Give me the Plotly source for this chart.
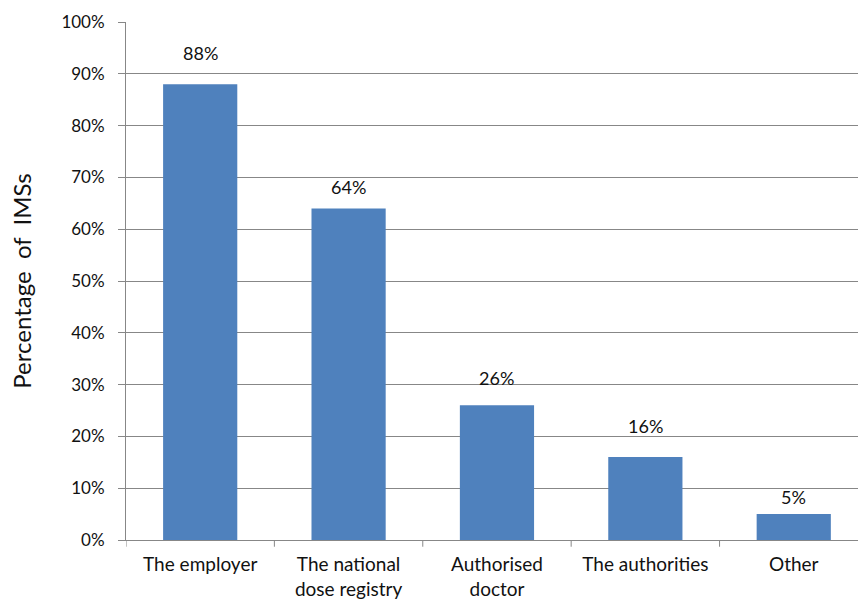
import plotly.graph_objects as go

categories = ["The employer", "The national<br>dose registry", "Authorised<br>doctor",
              "The authorities", "Other"]
percentages = [88, 64, 26, 16, 5]
value_labels = ["88%", "64%", "26%", "16%", "5%"]
y_ticks = [0, 10, 20, 30, 40, 50, 60, 70, 80, 90, 100]
y_tick_labels = [f"{t}%" for t in y_ticks]

FONT = "Lato, 'Noto Sans', sans-serif"
BAR_COLOR = "#4F81BD"
GRID = "#878787"
TEXT = "#111111"

fig = go.Figure()
fig.add_trace(go.Bar(
    x=list(range(len(categories))),
    y=percentages,
    width=0.5,
    marker=dict(color=BAR_COLOR, line=dict(width=0)),
    hoverinfo="skip",
))

# pixel lift of each value label above its bar
label_lift = [31, 21, 27, 31, 17]
for i, (v, lab) in enumerate(zip(percentages, value_labels)):
    fig.add_annotation(x=i, y=v, text=lab, showarrow=False, yshift=label_lift[i],
                       font=dict(family=FONT, size=18, color=TEXT))

fig.update_layout(
    width=858, height=599,
    margin=dict(l=126, r=0, t=22, b=59),
    plot_bgcolor="white", paper_bgcolor="white",
    showlegend=False,
    font=dict(family=FONT, size=17, color=TEXT),
)

fig.update_xaxes(
    range=[-0.5, 4.433],
    tickmode="array",
    tickvals=list(range(len(categories))),
    ticktext=categories,
    ticks="outside", ticklen=7, tickcolor="rgba(0,0,0,0)",
    showgrid=False, automargin=False,
    showline=True, linecolor=GRID, linewidth=1,
    tickfont=dict(family=FONT, size=19, color=TEXT),
    fixedrange=True,
)
# boundary ticks between categories
for b in [-0.5, 0.5, 1.5, 2.5, 3.5]:
    fig.add_shape(type="line", xref="x", yref="y domain", x0=b, x1=b,
                  y0=0, y1=-0.013, line=dict(color=GRID, width=1))

fig.update_yaxes(
    range=[0, 100],
    tickmode="array", tickvals=y_ticks, ticktext=y_tick_labels,
    ticks="outside", ticklen=7, tickcolor=GRID,
    ticklabelstandoff=10, automargin=False,
    showgrid=True, gridcolor=GRID, gridwidth=1,
    showline=True, linecolor=GRID, linewidth=1,
    zeroline=False,
    tickfont=dict(family=FONT, size=17, color=TEXT),
    title=dict(text="Percentage\u00a0\u00a0of\u00a0\u00a0IMSs",
               font=dict(family=FONT, size=24, color=TEXT), standoff=22),
    fixedrange=True,
)

fig.write_html("out.html")
